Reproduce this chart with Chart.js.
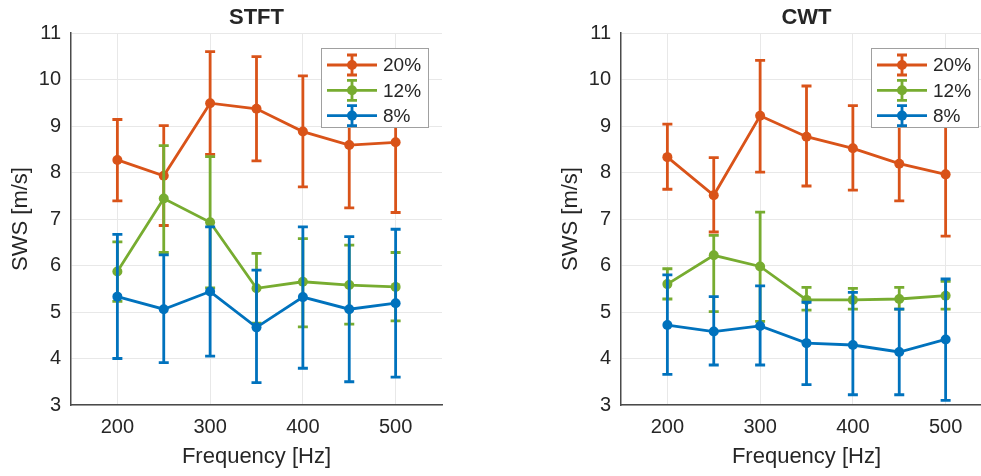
<!DOCTYPE html>
<html>
<head>
<meta charset="utf-8">
<script src="https://cdn.jsdelivr.net/npm/chart.js@4"></script>
<style>
  body { margin: 0; background: #fff; width: 981px; height: 476px; overflow: hidden; position: relative; }
  canvas { position: absolute; top: 0; }
  #stftChart { left: 0; }
  #cwtChart { left: 550px; }
</style>
</head>
<body>
<canvas id="stftChart" width="490" height="476"></canvas>
<canvas id="cwtChart" width="490" height="476"></canvas>
<script>
/* SWS vs frequency, STFT and CWT panels, mean with error bars */

const freqs = [200, 250, 300, 350, 400, 450, 500];
const freqTicks = [200, 300, 400, 500];
const swsTicks = [3, 4, 5, 6, 7, 8, 9, 10, 11];
const seriesLabels = ['20%', '12%', '8%'];
const seriesColors = ['#D95319', '#77AC30', '#0072BD'];

// STFT: means, lower and upper error-bar ends
const stft20 = [8.27, 7.93, 9.49, 9.37, 8.88, 8.59, 8.65];
const stft20Lo = [7.39, 6.86, 8.39, 8.25, 7.69, 7.24, 7.14];
const stft20Hi = [9.14, 9.01, 10.60, 10.49, 10.08, 9.94, 10.16];
const stft12 = [5.87, 7.44, 6.93, 5.51, 5.65, 5.58, 5.54];
const stft12Lo = [5.23, 6.28, 5.52, 4.76, 4.68, 4.74, 4.81];
const stft12Hi = [6.51, 8.58, 8.34, 6.26, 6.58, 6.44, 6.28];
const stft8 = [5.33, 5.06, 5.44, 4.67, 5.32, 5.06, 5.19];
const stft8Lo = [4.00, 3.91, 4.05, 3.48, 3.79, 3.50, 3.60];
const stft8Hi = [6.67, 6.23, 6.83, 5.90, 6.83, 6.62, 6.78];

// CWT
const cwt20 = [8.33, 7.51, 9.22, 8.77, 8.52, 8.19, 7.96];
const cwt20Lo = [7.64, 6.72, 8.01, 7.71, 7.62, 7.39, 6.63];
const cwt20Hi = [9.04, 8.32, 10.41, 9.86, 9.44, 9.05, 9.29];
const cwt12 = [5.60, 6.22, 5.98, 5.26, 5.26, 5.28, 5.35];
const cwt12Lo = [5.28, 5.01, 4.80, 5.04, 5.06, 5.06, 5.06];
const cwt12Hi = [5.93, 6.65, 7.15, 5.53, 5.51, 5.53, 5.66];
const cwt8 = [4.72, 4.58, 4.70, 4.33, 4.29, 4.14, 4.41];
const cwt8Lo = [3.66, 3.86, 3.86, 3.44, 3.22, 3.22, 3.10];
const cwt8Hi = [5.80, 5.33, 5.56, 5.21, 5.42, 5.06, 5.71];

const FONT = '"Liberation Sans", Arial, Helvetica, sans-serif';
const TEXT = '#262626';
const LINE_W = 2.8;

// vertical error bars with caps, drawn right after their own series
const errorBars = {
  id: 'errorBars',
  afterDatasetDraw(chart, args) {
    const ds = chart.data.datasets[args.index];
    const y = chart.scales.y;
    const ctx = chart.ctx;
    ctx.save();
    ctx.strokeStyle = ds.borderColor;
    ctx.lineWidth = LINE_W;
    args.meta.data.forEach((pt, i) => {
      const top = y.getPixelForValue(ds.errHi[i]);
      const bot = y.getPixelForValue(ds.errLo[i]);
      ctx.beginPath();
      ctx.moveTo(pt.x, top); ctx.lineTo(pt.x, bot);
      ctx.moveTo(pt.x - 5, top); ctx.lineTo(pt.x + 5, top);
      ctx.moveTo(pt.x - 5, bot); ctx.lineTo(pt.x + 5, bot);
      ctx.stroke();
    });
    ctx.restore();
  }
};

// boxed legend in the upper right, drawn over the data like MATLAB's
const boxLegend = {
  id: 'boxLegend',
  afterDraw(chart) {
    const { ctx, chartArea } = chart;
    const w = 107, h = 79;
    const x0 = Math.round(chartArea.right - 14 - w);
    const y0 = Math.round(chartArea.top + 15);
    ctx.save();
    ctx.fillStyle = '#fff';
    ctx.fillRect(x0, y0, w, h);
    ctx.strokeStyle = '#a0a0a0';
    ctx.lineWidth = 1;
    ctx.strokeRect(x0 + 0.5, y0 + 0.5, w, h);
    chart.data.datasets.forEach((ds, i) => {
      const cy = y0 + 17 + i * 25.3;
      const cx = x0 + 31;
      ctx.strokeStyle = ds.borderColor;
      ctx.fillStyle = ds.borderColor;
      ctx.lineWidth = LINE_W;
      ctx.beginPath();
      ctx.moveTo(x0 + 6, cy); ctx.lineTo(x0 + 56, cy);
      ctx.moveTo(cx, cy - 10); ctx.lineTo(cx, cy + 10);
      ctx.moveTo(cx - 5, cy - 10); ctx.lineTo(cx + 5, cy - 10);
      ctx.moveTo(cx - 5, cy + 10); ctx.lineTo(cx + 5, cy + 10);
      ctx.stroke();
      ctx.beginPath();
      ctx.arc(cx, cy, 5, 0, Math.PI * 2);
      ctx.fill();
      ctx.fillStyle = TEXT;
      ctx.font = '19px ' + FONT;
      ctx.textAlign = 'left';
      ctx.textBaseline = 'middle';
      ctx.fillText(ds.label, x0 + 62, cy + 1);
    });
    ctx.restore();
  }
};

function makeDataset(label, color, vals, lo, hi, order) {
  return {
    label,
    data: freqs.map((f, i) => ({ x: f, y: vals[i] })),
    errLo: lo,
    errHi: hi,
    borderColor: color,
    backgroundColor: color,
    borderWidth: LINE_W,
    pointRadius: 5,
    pointBorderWidth: 0,
    pointBackgroundColor: color,
    showLine: true,
    tension: 0,
    order
  };
}

function makeChart(canvasId, title, series) {
  return new Chart(document.getElementById(canvasId), {
    type: 'scatter',
    data: {
      datasets: series.map((s, i) =>
        makeDataset(seriesLabels[i], seriesColors[i], s[0], s[1], s[2], 3 - i))
    },
    options: {
      responsive: false,
      animation: false,
      devicePixelRatio: 1,
      layout: { padding: { left: 0, right: 48, top: 0, bottom: 0 } },
      plugins: {
        legend: { display: false },
        tooltip: { enabled: false },
        title: {
          display: true,
          text: title,
          fullSize: false,
          color: TEXT,
          font: { family: FONT, size: 22, weight: 'bold' },
          padding: { top: 5, bottom: 1.6 }
        }
      },
      scales: {
        x: {
          type: 'linear',
          min: 150,
          max: 550,
          afterBuildTicks: s => { s.ticks = freqTicks.map(v => ({ value: v })); },
          afterFit: s => { s.height = 71; },
          grid: { color: '#e8e8e8', drawTicks: false },
          border: { color: '#4a4a4a', width: 1.5 },
          ticks: { color: TEXT, font: { family: FONT, size: 20 }, padding: 10 },
          title: {
            display: true,
            text: 'Frequency [Hz]',
            color: TEXT,
            font: { family: FONT, size: 22 },
            padding: { top: 0, bottom: 6 }
          }
        },
        y: {
          min: 3,
          max: 11,
          afterBuildTicks: s => { s.ticks = swsTicks.map(v => ({ value: v })); },
          afterFit: s => { s.width = 71; },
          grid: { color: '#e8e8e8', drawTicks: false },
          border: { color: '#4a4a4a', width: 1.5 },
          ticks: { color: TEXT, font: { family: FONT, size: 20 }, padding: 10 },
          title: {
            display: true,
            text: 'SWS [m/s]',
            color: TEXT,
            font: { family: FONT, size: 22 },
            padding: { top: 8, bottom: 0 }
          }
        }
      }
    },
    plugins: [errorBars, boxLegend]
  });
}

document.addEventListener('DOMContentLoaded', () => {
  makeChart('stftChart', 'STFT', [
    [stft20, stft20Lo, stft20Hi],
    [stft12, stft12Lo, stft12Hi],
    [stft8, stft8Lo, stft8Hi]
  ]);
  makeChart('cwtChart', 'CWT', [
    [cwt20, cwt20Lo, cwt20Hi],
    [cwt12, cwt12Lo, cwt12Hi],
    [cwt8, cwt8Lo, cwt8Hi]
  ]);
});
</script>
</body>
</html>
